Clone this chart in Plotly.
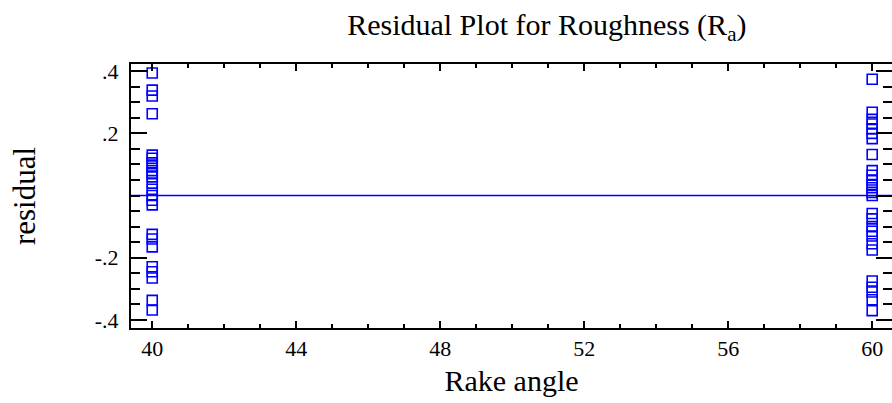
import plotly.graph_objects as go

# Data
rake_40 = 40
rake_60 = 60
resid_40 = [0.394, 0.339, 0.32, 0.263, 0.13, 0.12, 0.105, 0.095, 0.08, 0.07, 0.06,
            0.04, 0.02, 0.0, -0.015, -0.03, -0.125, -0.14, -0.165, -0.229, -0.245,
            -0.265, -0.337, -0.368]
resid_60 = [0.374, 0.268, 0.245, 0.23, 0.215, 0.2, 0.183, 0.132, 0.08, 0.065, 0.05,
            0.035, 0.025, 0.01, 0.0, -0.058, -0.075, -0.1, -0.115, -0.13, -0.155,
            -0.175, -0.275, -0.295, -0.31, -0.335, -0.37]
y_labelvals = [-0.4, -0.2, 0.2, 0.4]
y_labeltext = ["-.4", "-.2", ".2", ".4"]
y_majorvals = [-0.4, -0.2, 0, 0.2, 0.4]

FONT = "Liberation Serif"
BLUE = "#0000ff"
marker = dict(symbol="square-open", size=10, color=BLUE, line=dict(width=1.6, color=BLUE))

YR = [-0.426, 0.423]
XR = [39.41, 60.55]

minor_y = dict(tickmode="linear", tick0=0, dtick=0.05, ticks="inside",
               ticklen=9, tickwidth=2, tickcolor="black", showgrid=False)

fig = go.Figure()
fig.add_trace(go.Scatter(x=[rake_40] * len(resid_40), y=resid_40, mode="markers",
                         marker=marker, showlegend=False, yaxis="y"))
fig.add_trace(go.Scatter(x=[rake_60] * len(resid_60), y=resid_60, mode="markers",
                         marker=marker, showlegend=False, yaxis="y2"))
fig.add_shape(type="line", xref="paper", yref="y", x0=0, x1=1, y0=0, y1=0,
              line=dict(color=BLUE, width=1.5), layer="below")

fig.update_layout(
    width=892, height=403,
    margin=dict(l=131, r=0, t=64, b=75),
    plot_bgcolor="white", paper_bgcolor="white",
    font=dict(family=FONT, color="black", size=22),
    title=dict(text="Residual Plot for Roughness (R<sub>a</sub>)", x=0.613, xanchor="center",
               y=0.94, yanchor="middle", font=dict(family=FONT, size=30, color="black")),
    xaxis=dict(range=XR, tickmode="linear", tick0=40, dtick=4, ticks="inside",
               ticklen=7, tickwidth=2, tickcolor="black", showline=True, linewidth=2,
               linecolor="black", mirror="ticks", showgrid=False, zeroline=False,
               minor=dict(tickmode="linear", tick0=40, dtick=1, ticks="inside", ticklen=4,
                          tickwidth=2, tickcolor="black", showgrid=False),
               title=dict(text="Rake angle", font=dict(size=30), standoff=10),
               tickfont=dict(size=22)),
    yaxis=dict(range=YR, tickmode="array", tickvals=y_labelvals, ticktext=y_labeltext,
               ticks="inside", ticklen=16, tickwidth=2, tickcolor="black",
               showline=True, linewidth=2, linecolor="black", showgrid=False,
               zeroline=False, ticklabelstandoff=6, minor=minor_y,
               title=dict(text="residual", font=dict(size=31), standoff=50),
               tickfont=dict(size=22)),
    yaxis2=dict(range=YR, overlaying="y", side="right", tickmode="array",
                tickvals=y_majorvals, showticklabels=False, ticks="inside", ticklen=16,
                tickwidth=2, tickcolor="black", showline=False, showgrid=False,
                zeroline=False, minor=minor_y),
    yaxis3=dict(range=YR, overlaying="y", side="left", tickmode="array",
                tickvals=[0], showticklabels=False, ticks="inside", ticklen=16,
                tickwidth=2, tickcolor="black", showline=False, showgrid=False,
                zeroline=False),
)

fig.write_html("out.html")
